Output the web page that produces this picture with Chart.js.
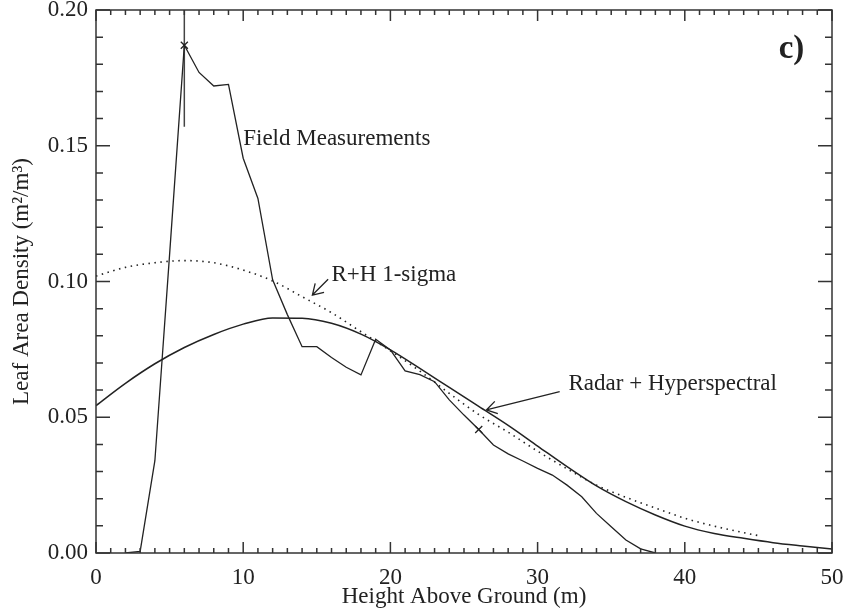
<!DOCTYPE html>
<html>
<head>
<title>Leaf Area Density</title>
<script src="https://cdn.jsdelivr.net/npm/chart.js"></script>
<style>
    body { margin: 0; background: #fff; }
    #chartContainer { width: 849px; height: 616px; }
</style>
</head>
<body>
<div id="chartContainer">
    <canvas id="myChart" width="849" height="616"></canvas>
</div>

<script>
// field measurements, one value per metre
var fieldHeights = [2, 3, 4, 5, 6, 7, 8, 9, 10, 11, 12, 13, 14, 15, 16, 17, 18, 19, 20,
    21, 22, 23, 24, 25, 26, 27, 28, 29, 30, 31, 32, 33, 34, 35, 36, 37, 38];
var fieldLad = [0.0, 0.0006, 0.034, 0.110, 0.187, 0.177, 0.172, 0.1726, 0.1454, 0.1306,
    0.1006, 0.0878, 0.076, 0.076, 0.072, 0.0684, 0.0656, 0.0787, 0.0748, 0.0671,
    0.0657, 0.0631, 0.0564, 0.0508, 0.0455, 0.0398, 0.0365, 0.0339, 0.0312, 0.0287,
    0.025, 0.0207, 0.0146, 0.0097, 0.0048, 0.0015, 0.0];

// radar + hyperspectral profile
var radarHeights = [0, 2, 4, 6, 8, 10, 12, 14, 16, 18, 20, 22, 24, 26, 28, 30, 32, 34,
    36, 38, 40, 42, 44, 46, 48, 50];
var radarLad = [0.0543, 0.0625, 0.0697, 0.0757, 0.0805, 0.0843, 0.0866, 0.0865, 0.0846,
    0.0806, 0.0748, 0.0680, 0.0610, 0.0540, 0.0470, 0.0394, 0.0318, 0.0247, 0.0189,
    0.0140, 0.0099, 0.0072, 0.0054, 0.0038, 0.0026, 0.0015];

// R+H 1-sigma
var sigmaHeights = [0, 2, 4, 6, 8, 10, 12, 14, 16, 18, 20, 22, 24, 26, 28, 30, 32, 34,
    36, 38, 40, 42, 44, 45];
var sigmaLad = [0.1020, 0.1052, 0.1069, 0.1077, 0.1069, 0.1042, 0.1002, 0.0944, 0.0885,
    0.0815, 0.0745, 0.0670, 0.0588, 0.0510, 0.0445, 0.0375, 0.0310, 0.0250, 0.0205,
    0.0166, 0.0128, 0.0099, 0.0075, 0.0064];

// crosses and the error bar at the peak
var markHeights = [6, 26];
var markLad = [0.187, 0.0455];
var errHeight = 6;
var errLow = 0.157;
var errHigh = 0.217;

var xTicks = [0, 10, 20, 30, 40, 50];
var yTicks = [0, 0.05, 0.10, 0.15, 0.20];

var ink = '#222';
var serif = "'Liberation Serif', 'Times New Roman', serif";

function toPoints(xs, ys) {
    var pts = [];
    for (var i = 0; i < xs.length; i++) {
        pts.push({ x: xs[i], y: ys[i] });
    }
    return pts;
}

// box and inward ticks on all four sides
var framePlugin = {
    id: 'frame',
    afterDatasetsDraw: function(chart) {
        var ctx = chart.ctx;
        var xs = chart.scales.x, ys = chart.scales.y;
        var a = chart.chartArea;
        ctx.save();
        ctx.strokeStyle = '#333';
        ctx.lineWidth = 1.5;
        ctx.strokeRect(a.left, a.top, a.right - a.left, a.bottom - a.top);
        ctx.beginPath();
        for (var i = 0; i <= 50; i++) {
            var px = xs.getPixelForValue(i);
            var len = (i % 10 === 0) ? 11 : 5;
            ctx.moveTo(px, a.bottom); ctx.lineTo(px, a.bottom - len);
            ctx.moveTo(px, a.top); ctx.lineTo(px, a.top + len);
        }
        for (var j = 0; j <= 20; j++) {
            var py = ys.getPixelForValue(j / 100);
            var ylen = (j % 5 === 0) ? 14 : 7;
            ctx.moveTo(a.left, py); ctx.lineTo(a.left + ylen, py);
            ctx.moveTo(a.right, py); ctx.lineTo(a.right - ylen, py);
        }
        ctx.stroke();
        ctx.restore();
    }
};

// text labels and arrows, placed in data units
var notes = [
    { text: 'Field Measurements', x: 10.0, y: 0.1525 },
    { text: 'R+H 1-sigma', x: 16.0, y: 0.1024 },
    { text: 'Radar + Hyperspectral', x: 32.1, y: 0.0622 }
];
var arrows = [
    { x1: 15.77, y1: 0.1008, x2: 14.7, y2: 0.0950 },
    { x1: 31.5, y1: 0.0594, x2: 26.52, y2: 0.0527 }
];

var notesPlugin = {
    id: 'notes',
    afterDatasetsDraw: function(chart) {
        var ctx = chart.ctx;
        var xs = chart.scales.x, ys = chart.scales.y;
        ctx.save();
        ctx.fillStyle = ink;
        ctx.strokeStyle = ink;
        ctx.lineWidth = 1.3;
        ctx.font = '23px ' + serif;
        ctx.textAlign = 'left';
        ctx.textBaseline = 'middle';
        notes.forEach(function(n) {
            ctx.fillText(n.text, xs.getPixelForValue(n.x), ys.getPixelForValue(n.y));
        });
        arrows.forEach(function(ar) {
            var x1 = xs.getPixelForValue(ar.x1), y1 = ys.getPixelForValue(ar.y1);
            var x2 = xs.getPixelForValue(ar.x2), y2 = ys.getPixelForValue(ar.y2);
            var ang = Math.atan2(y1 - y2, x1 - x2);
            var hl = 12, spread = 0.55;
            ctx.beginPath();
            ctx.moveTo(x1, y1); ctx.lineTo(x2, y2);
            ctx.moveTo(x2 + hl * Math.cos(ang + spread), y2 + hl * Math.sin(ang + spread));
            ctx.lineTo(x2, y2);
            ctx.lineTo(x2 + hl * Math.cos(ang - spread), y2 + hl * Math.sin(ang - spread));
            ctx.stroke();
        });
        ctx.font = 'bold 33px ' + serif;
        ctx.textAlign = 'center';
        ctx.fillText('c)', xs.getPixelForValue(47.25), ys.getPixelForValue(0.1853));
        ctx.restore();
    }
};

Chart.defaults.font.family = serif;
Chart.defaults.font.size = 23;
Chart.defaults.color = ink;

var ctx = document.getElementById('myChart').getContext('2d');

var chart = new Chart(ctx, {
    type: 'line',
    data: {
        datasets: [{
            label: 'Field Measurements',
            data: toPoints(fieldHeights, fieldLad),
            borderColor: ink,
            borderWidth: 1.3,
            pointRadius: 0
        }, {
            label: 'Radar + Hyperspectral',
            data: toPoints(radarHeights, radarLad),
            borderColor: ink,
            borderWidth: 1.5,
            pointRadius: 0,
            cubicInterpolationMode: 'monotone'
        }, {
            label: 'R+H 1-sigma',
            data: toPoints(sigmaHeights, sigmaLad),
            borderColor: ink,
            borderWidth: 1.6,
            borderDash: [1.5, 4.5],
            pointRadius: 0,
            cubicInterpolationMode: 'monotone'
        }, {
            label: 'marks',
            data: toPoints(markHeights, markLad),
            showLine: false,
            pointStyle: 'crossRot',
            pointRadius: 5,
            borderColor: ink,
            borderWidth: 1.3
        }, {
            label: 'error',
            data: [{ x: errHeight, y: errLow }, { x: errHeight, y: errHigh }],
            borderColor: '#444',
            borderWidth: 1.5,
            pointRadius: 0
        }]
    },
    options: {
        responsive: false,
        animation: false,
        devicePixelRatio: 1,
        layout: { padding: { left: 0, right: 17, top: 10, bottom: 0 } },
        plugins: {
            legend: { display: false },
            tooltip: { enabled: false }
        },
        scales: {
            x: {
                type: 'linear',
                min: 0,
                max: 50,
                grid: { display: false, drawTicks: false },
                border: { display: false },
                afterBuildTicks: function(scale) {
                    scale.ticks = xTicks.map(function(v) { return { value: v }; });
                },
                afterFit: function(scale) {
                    scale.height = 63;
                    scale.paddingLeft = 0;
                    scale.paddingRight = 0;
                },
                ticks: { padding: 11, maxRotation: 0, autoSkip: false },
                title: {
                    display: true,
                    text: 'Height Above Ground (m)',
                    font: { size: 23 },
                    padding: { top: 0, bottom: 5 }
                }
            },
            y: {
                type: 'linear',
                min: 0,
                max: 0.2,
                grid: { display: false, drawTicks: false },
                border: { display: false },
                afterBuildTicks: function(scale) {
                    scale.ticks = yTicks.map(function(v) { return { value: v }; });
                },
                afterFit: function(scale) {
                    scale.width = 96;
                    scale.paddingTop = 0;
                    scale.paddingBottom = 0;
                },
                ticks: {
                    padding: 8,
                    autoSkip: false,
                    callback: function(v) { return v.toFixed(2); }
                },
                title: {
                    display: true,
                    text: 'Leaf Area Density (m\u00b2/m\u00b3)',
                    font: { size: 23 },
                    padding: { top: 8, bottom: 0 }
                }
            }
        }
    },
    plugins: [framePlugin, notesPlugin]
});
</script>
</body>
</html>
